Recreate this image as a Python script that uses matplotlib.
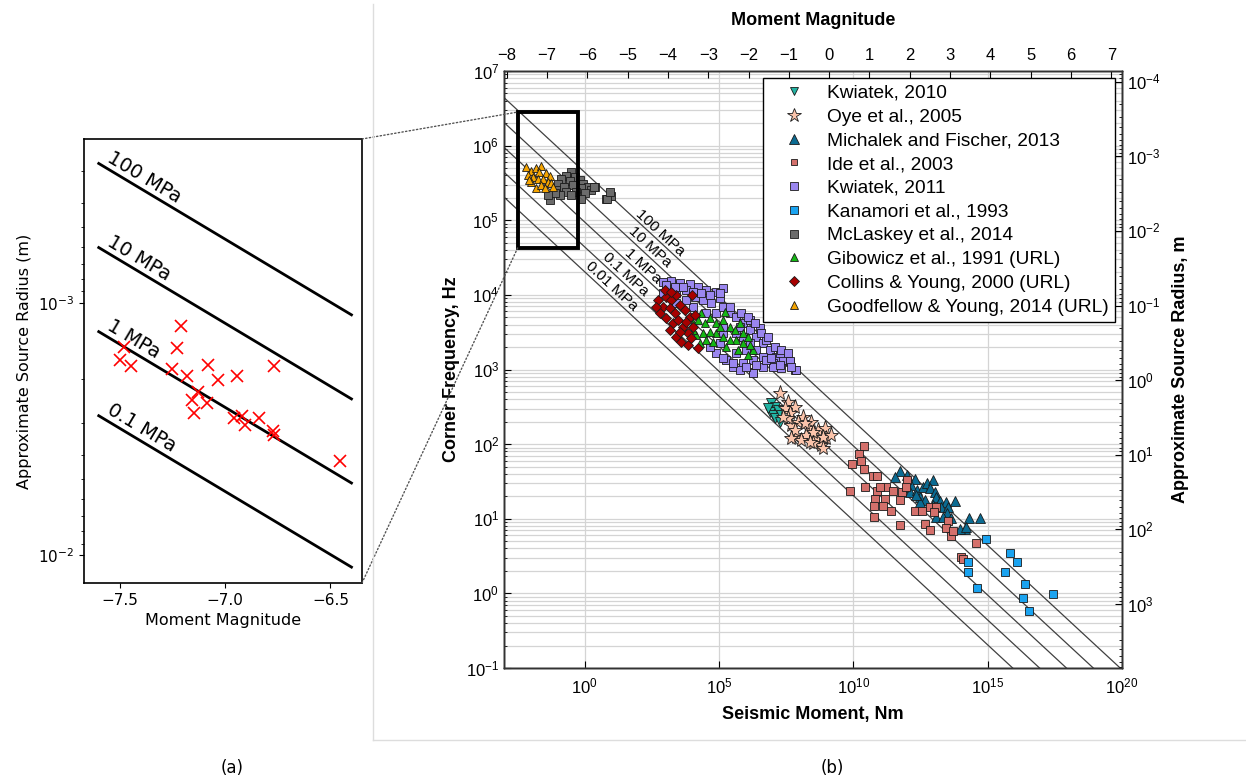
import numpy as np
import matplotlib.pyplot as plt
from matplotlib import font_manager as fm
from matplotlib.patches import Rectangle, ConnectionPatch
from matplotlib.lines import Line2D


def pick_font(names):
    for n in names:
        try:
            fm.findfont(n, fallback_to_default=False)
            return n
        except ValueError:
            pass
    return 'DejaVu Sans'


NARROW = pick_font(['Liberation Sans Narrow', 'Liberation Sans'])
SANS = pick_font(['Liberation Sans', 'DejaVu Sans'])
plt.rcParams['mathtext.rm'] = NARROW
plt.rcParams['mathtext.it'] = NARROW
plt.rcParams['mathtext.bf'] = NARROW

K_SRC = 720.0  # corner frequency * source radius (0.21 * beta)

# ---------------- panel (a): Goodfellow & Young 2014 ----------------
a_mw = [-7.48, -7.50, -7.446, -7.211, -7.228, -7.251, -7.180, -7.079, -7.033, -7.127, -7.156,
        -7.088, -7.150, -6.942, -6.956, -6.920, -6.904, -6.839, -6.767, -6.771, -6.767, -6.453]
a_logr = [-2.824, -2.773, -2.749, -2.910, -2.820, -2.738, -2.709, -2.754, -2.696, -2.646, -2.614,
          -2.604, -2.564, -2.712, -2.544, -2.551, -2.518, -2.544, -2.749, -2.491, -2.478, -2.373]
a_stress = [100, 10, 1, 0.1]

# ---------------- panel (b): log10 seismic moment / log10 corner frequency ----------------
kw10_m0 = [6.95, 7.07, 6.89, 7.01, 7.20, 7.10, 7.26, 6.83, 7.32]
kw10_fc = [2.545, 2.50, 2.433, 2.389, 2.456, 2.344, 2.30, 2.478, 2.389]

oye_m0 = [7.26, 7.57, 7.45, 7.82, 7.63, 8.13, 7.94, 8.44, 7.69, 8.31, 8.69, 8.94, 7.88, 8.25, 8.63,
          9.00, 8.81, 8.50, 8.07, 7.57, 7.38, 7.82, 8.50, 8.87, 9.18, 8.19, 8.38, 8.87, 7.69]
oye_fc = [2.679, 2.568, 2.478, 2.501, 2.411, 2.366, 2.299, 2.299, 2.255, 2.210, 2.188, 2.210, 2.098,
          2.121, 2.098, 2.076, 1.987, 2.009, 2.054, 2.344, 2.366, 2.188, 2.165, 2.098, 2.121, 2.277,
          2.031, 1.942, 2.076]

mich_m0 = [11.73, 11.54, 11.98, 12.29, 12.16, 11.91, 12.10, 12.37, 12.60, 12.75, 12.97, 12.85, 13.03,
           12.47, 12.66, 13.09, 13.22, 13.44, 13.78, 12.97, 13.28, 13.53, 13.09, 13.47, 13.65, 14.15,
           14.31, 14.71, 13.96, 14.21, 12.47, 12.35, 13.34]
mich_fc = [1.643, 1.562, 1.585, 1.531, 1.451, 1.428, 1.361, 1.384, 1.428, 1.473, 1.518, 1.406, 1.361,
           1.294, 1.250, 1.294, 1.241, 1.227, 1.236, 1.183, 1.151, 1.160, 1.017, 1.071, 1.004, 0.861,
           1.004, 1.013, 0.856, 0.892, 1.227, 1.317, 1.026]

ide_m0 = [10.39, 10.21, 10.29, 9.95, 10.40, 10.75, 10.87, 11.23, 10.42, 9.87, 10.88, 11.01, 11.48,
          11.80, 10.81, 11.18, 10.78, 11.11, 11.74, 11.39, 10.78, 11.98, 11.95, 12.29, 12.54, 12.84,
          13.06, 13.01, 11.73, 12.65, 12.84, 13.53, 13.44, 13.65, 13.71, 14.56, 14.02, 14.09]
ide_fc = [1.98, 1.87, 1.77, 1.73, 1.665, 1.57, 1.57, 1.428, 1.42, 1.37, 1.37, 1.43, 1.37, 1.36, 1.26,
          1.26, 1.17, 1.17, 1.25, 1.10, 1.03, 1.52, 1.43, 1.10, 1.10, 1.16, 1.16, 1.09, 0.914, 0.928,
          0.848, 0.973, 0.870, 0.767, 0.834, 0.677, 0.481, 0.454]

kw11_m0 = [2.92, 3.23, 3.54, 3.91, 4.22, 4.53, 4.90, 5.15, 3.10, 3.41, 3.78, 4.09, 4.41, 4.72, 5.03,
           2.92, 4.03, 4.53, 4.90, 5.40, 5.15, 5.65, 5.89, 6.14, 6.39, 6.64, 6.89, 7.14, 7.38, 7.63,
           7.82, 5.89, 6.14, 6.39, 6.02, 5.65, 6.27, 6.64, 7.01, 5.89, 6.27, 5.52, 5.27, 4.90, 5.03,
           4.65, 5.15, 5.65, 6.64, 7.26, 6.76, 6.52, 6.14, 5.77, 3.41, 3.78, 5.15, 6.27, 5.77, 7.32,
           7.86, 7.63, 7.01, 6.76, 6.02, 5.52, 5.15, 3.04, 3.35, 3.66, 4.03, 4.34, 4.65, 5.03, 5.40,
           5.83, 6.08, 6.33, 6.58, 6.83, 7.07, 7.32, 7.57, 7.69, 6.95, 7.26, 6.39]
kw11_fc = [4.176, 4.189, 4.162, 4.144, 4.109, 4.064, 4.042, 4.086, 4.064, 4.019, 4.064, 3.975, 3.930,
           3.885, 3.952, 4.019, 3.841, 3.751, 3.751, 3.751, 3.841, 3.706, 3.617, 3.528, 3.438, 3.349,
           3.260, 3.170, 3.126, 3.103, 2.992, 3.438, 3.349, 3.260, 3.260, 3.215, 3.126, 3.170, 3.081,
           3.081, 2.969, 3.036, 3.126, 3.215, 3.349, 3.304, 3.483, 3.483, 3.036, 3.215, 3.394, 3.550,
           3.662, 3.572, 3.885, 3.930, 3.572, 2.947, 2.992, 3.014, 2.992, 3.117, 3.037, 3.126, 3.037,
           3.081, 3.148, 4.131, 4.109, 4.100, 4.042, 4.019, 3.997, 4.019, 3.841, 3.751, 3.706, 3.617,
           3.483, 3.438, 3.304, 3.260, 3.215, 3.036, 3.148, 3.059, 3.059]

kan_m0 = [14.95, 15.82, 16.11, 14.26, 14.26, 15.65, 14.61, 16.39, 17.44, 16.32, 16.55]
kan_fc = [0.722, 0.543, 0.418, 0.418, 0.280, 0.280, 0.070, 0.119, -0.015, -0.060, -0.234]

mcl_m0 = [-0.50, -0.68, -0.37, -0.87, -0.56, -0.19, -0.99, -0.75, -0.44, -0.06, 0.12, -0.12, 0.25,
          0.37, -1.06, -0.68, -0.31, 0.0, -0.93, -0.50, -1.30, -0.12, 0.81, -1.12, -1.37, 0.99, 0.83,
          0.96, 0.335]
mcl_fc = [5.65, 5.59, 5.58, 5.55, 5.52, 5.54, 5.49, 5.45, 5.47, 5.49, 5.45, 5.43, 5.405, 5.45, 5.405,
          5.38, 5.38, 5.36, 5.34, 5.34, 5.27, 5.29, 5.28, 5.37, 5.34, 5.324, 5.29, 5.38, 5.44]

gib_m0 = [3.66, 4.03, 4.22, 4.34, 4.47, 4.65, 4.90, 5.15, 5.21, 5.40, 5.58, 5.77, 5.89, 6.08, 6.27,
          6.14, 5.89, 5.65, 5.40, 5.15, 4.90, 4.65, 4.41, 4.16, 4.28, 4.78, 5.27, 5.71, 6.08, 4.03,
          5.03, 4.53]
gib_fc = [3.550, 3.617, 3.662, 3.751, 3.617, 3.684, 3.617, 3.662, 3.773, 3.572, 3.528, 3.617, 3.483,
          3.438, 3.260, 3.327, 3.349, 3.394, 3.394, 3.438, 3.483, 3.505, 3.483, 3.461, 3.349, 3.371,
          3.304, 3.260, 3.193, 3.528, 3.572, 3.394]

col_m0 = [2.73, 2.92, 3.04, 3.23, 3.41, 3.16, 3.35, 3.54, 3.72, 3.91, 2.79, 3.04, 3.29, 3.48, 3.66,
          3.85, 3.16, 3.41, 3.60, 3.85, 4.03, 4.10, 4.22, 3.79, 2.98, 3.23, 4.01, 3.97, 3.54, 2.67]
col_fc = [3.930, 3.840, 3.966, 3.930, 3.997, 3.818, 3.751, 3.863, 3.796, 3.706, 3.751, 3.684, 3.617,
          3.662, 3.572, 3.483, 3.528, 3.438, 3.371, 3.327, 3.572, 3.729, 3.282, 3.639, 4.064, 4.042,
          3.997, 3.416, 3.505, 3.840]

gdf_m0 = [-2.17, -1.99, -1.80, -1.61, -1.68, -2.11, -1.92, -1.74, -1.43, -1.30, -1.55, -1.37, -1.80,
          -1.99, -1.24, -1.18, -1.61, -1.49, -2.07]
gdf_fc = [5.72, 5.66, 5.695, 5.73, 5.65, 5.606, 5.575, 5.548, 5.628, 5.592, 5.548, 5.516, 5.427,
          5.516, 5.494, 5.45, 5.472, 5.427, 5.54]

series = [
    ('Kwiatek, 2010', kw10_m0, kw10_fc, 'v', '#22b3a3', 6.5),
    ('Oye et al., 2005', oye_m0, oye_fc, '*', '#fbc4ab', 11),
    ('Michalek and Fischer, 2013', mich_m0, mich_fc, '^', '#0b6b92', 7.5),
    ('Ide et al., 2003', ide_m0, ide_fc, 's', '#d4706b', 5.3),
    ('Kwiatek, 2011', kw11_m0, kw11_fc, 's', '#9a86ef', 5.8),
    ('Kanamori et al., 1993', kan_m0, kan_fc, 's', '#1aa3f0', 6),
    ('McLaskey et al., 2014', mcl_m0, mcl_fc, 's', '#6b6b6b', 5.8),
    ('Gibowicz et al., 1991 (URL)', gib_m0, gib_fc, '^', '#14b814', 6.2),
    ('Collins & Young, 2000 (URL)', col_m0, col_fc, 'D', '#a80000', 5.2),
    ('Goodfellow & Young, 2014 (URL)', gdf_m0, gdf_fc, '^', '#f5a400', 6.2),
]
b_stress = [100, 10, 1, 0.1, 0.01]
b_label_x = [2.64, 2.23, 1.97, 1.34, 0.82]
zoom_box = (-2.49, -0.26, 4.63, 6.45)


def mw_to_m0(mw):
    return 10 ** (1.5 * np.asarray(mw, dtype=float) + 9.1)


def radius(m0, mpa):
    return (7.0 * m0 / (16.0 * mpa * 1e6)) ** (1.0 / 3.0)


def screen_angle(ax, x0, y0, x1, y1):
    p0, p1 = ax.transData.transform([(x0, y0), (x1, y1)])
    return np.degrees(np.arctan2(p1[1] - p0[1], p1[0] - p0[0]))


W, H = 1246, 783
fig = plt.figure(figsize=(W / 100, H / 100), dpi=100)

# ---------------- (a) ----------------
axa = fig.add_axes([84 / W, 1 - 583 / H, (362 - 84) / W, (583 - 139) / H])
axa.set_yscale('log')
axa.set_xlim(-7.67, -6.35)
axa.set_ylim(10 ** -1.89, 10 ** -3.65)
mw_line = np.linspace(-7.6, -6.4, 50)
for s in a_stress:
    axa.plot(mw_line, radius(mw_to_m0(mw_line), s), color='black', lw=2)
    ang = screen_angle(axa, -7.6, radius(mw_to_m0(-7.6), s), -6.4, radius(mw_to_m0(-6.4), s))
    x0 = -7.575
    axa.annotate(f'{s:g} MPa', xy=(x0, radius(mw_to_m0(x0), s)), xytext=(0, 1.5),
                 textcoords='offset points', rotation=ang, rotation_mode='anchor',
                 ha='left', va='bottom', fontsize=14)
axa.plot(a_mw, 10 ** np.array(a_logr), 'x', color='red', ms=9, mew=1.2, ls='none')
axa.set_xticks([-7.5, -7.0, -6.5])
axa.tick_params(labelsize=11)
axa.set_xlabel('Moment Magnitude', fontsize=11.5)
axa.set_ylabel('Approximate Source Radius (m)', fontsize=11.5)
for sp in axa.spines.values():
    sp.set_linewidth(1.2)

# ---------------- (b) ----------------
axb = fig.add_axes([504 / W, 1 - 668 / H, (1122 - 504) / W, (668 - 71) / H])
axb.set_xscale('log')
axb.set_yscale('log')
axb.set_xlim(1e-3, 1e20)
axb.set_ylim(1e-1, 1e7)
axb.set_axisbelow(True)
axb.grid(True, which='major', color='#d4d4d4', lw=0.9)
axb.grid(True, which='minor', axis='y', color='#d4d4d4', lw=0.9)

m0_line = np.logspace(-3, 20, 200)
for s in b_stress:
    fc_line = K_SRC / radius(m0_line, s)
    axb.plot(m0_line, fc_line, color='#404040', lw=0.9, zorder=1.5)
for s, xl in zip(b_stress, b_label_x):
    xa, xb2 = 1e0, 1e3
    ang = screen_angle(axb, xa, K_SRC / radius(xa, s), xb2, K_SRC / radius(xb2, s))
    m0 = 10 ** xl
    axb.annotate(f'{s:g} MPa', xy=(m0, K_SRC / radius(m0, s)), xytext=(3.6, 3.9),
                 textcoords='offset points', rotation=ang, rotation_mode='anchor',
                 ha='center', va='center', fontsize=11, family=SANS)

for label, xm, yf, mk, col, ms in series:
    axb.plot(10 ** np.array(xm), 10 ** np.array(yf), ls='none', marker=mk, ms=ms, mfc=col,
             mec='#1a1a1a', mew=0.6, label=label, zorder=3)

x0, x1, y0, y1 = zoom_box
axb.add_patch(Rectangle((10 ** x0, 10 ** y0), 10 ** x1 - 10 ** x0, 10 ** y1 - 10 ** y0,
                        fill=False, ec='black', lw=2.8, zorder=5))

leg = axb.legend(loc='upper right', markerscale=0.9, fancybox=False,
                 edgecolor='black', framealpha=1, borderaxespad=0.35, labelspacing=0.33,
                 handlelength=2.6, handletextpad=0.4, borderpad=0.35,
                 prop={'family': SANS, 'size': 13.8})
leg.get_frame().set_linewidth(1.0)
leg.set_zorder(10)

xt = [1e0, 1e5, 1e10, 1e15, 1e20]
axb.set_xticks(xt, [f'$10^{{{int(np.log10(v))}}}$' for v in xt], math_fontfamily='custom',
               fontsize=12)
axb.xaxis.set_minor_locator(plt.NullLocator())
yt = [10.0 ** k for k in range(-1, 8)]
axb.set_yticks(yt, [f'$10^{{{k}}}$' for k in range(-1, 8)], math_fontfamily='custom', fontsize=12)
axb.tick_params(which='both', direction='in')
axb.tick_params(which='major', length=5)
axb.tick_params(axis='x', pad=7)
axb.set_xlabel('Seismic Moment, Nm', fontsize=13, fontweight='bold', family=SANS, labelpad=6)
axb.set_ylabel('Corner Frequency, Hz', fontsize=13, fontweight='bold', family=SANS)

# top: moment magnitude
axt = axb.twiny()
axt.set_xscale('log')
axt.set_xlim(axb.get_xlim())
mw_ticks = list(range(-8, 8))
axt.set_xticks(mw_to_m0(mw_ticks), [str(m).replace('-', '\u2212') for m in mw_ticks],
               family=NARROW, fontsize=12)
axt.xaxis.set_minor_locator(plt.NullLocator())
axt.tick_params(direction='in', length=5, pad=6)
axt.set_xlabel('Moment Magnitude', fontsize=13, fontweight='bold', family=SANS, labelpad=16)

# right: approximate source radius
axr = axb.twinx()
axr.set_yscale('log')
axr.set_ylim(axb.get_ylim())
r_ticks = list(range(-4, 4))
axr.set_yticks([K_SRC / 10.0 ** k for k in r_ticks], [f'$10^{{{k}}}$' for k in r_ticks],
               math_fontfamily='custom', fontsize=12)
r_minor = [K_SRC / (m * 10.0 ** k) for k in range(-5, 4) for m in range(2, 10)]
r_minor = [v for v in r_minor if 1e-1 <= v <= 1e7]
axr.set_yticks(r_minor, minor=True)
axr.yaxis.set_minor_formatter(plt.NullFormatter())
axr.tick_params(which='both', direction='in')
axr.tick_params(which='major', length=5)
axr.set_ylabel('Approximate Source Radius, m', fontsize=13, fontweight='bold', family=SANS,
               labelpad=8)

for ax in (axb, axt, axr):
    for sp in ax.spines.values():
        sp.set_linewidth(1.0)
        sp.set_color('#333333')

# zoom connectors
for ya, yb in ((1, y1), (0, y0)):
    con = ConnectionPatch(xyA=(1, ya), coordsA=axa.transAxes, xyB=(10 ** x0, 10 ** yb),
                          coordsB=axb.transData, ls=':', color='#555555', lw=1)
    fig.add_artist(con)

fig.add_artist(Line2D([373 / W, 373 / W], [1 - 4 / H, 1 - 740 / H], transform=fig.transFigure,
                      color='#dddddd', lw=1))
fig.add_artist(Line2D([373 / W, 1], [1 - 740 / H, 1 - 740 / H], transform=fig.transFigure,
                      color='#dddddd', lw=1))
fig.text(232 / W, 1 - 768 / H, '(a)', ha='center', va='center', fontsize=12)
fig.text(832 / W, 1 - 768 / H, '(b)', ha='center', va='center', fontsize=12)

fig.savefig('out.png', dpi=100)
